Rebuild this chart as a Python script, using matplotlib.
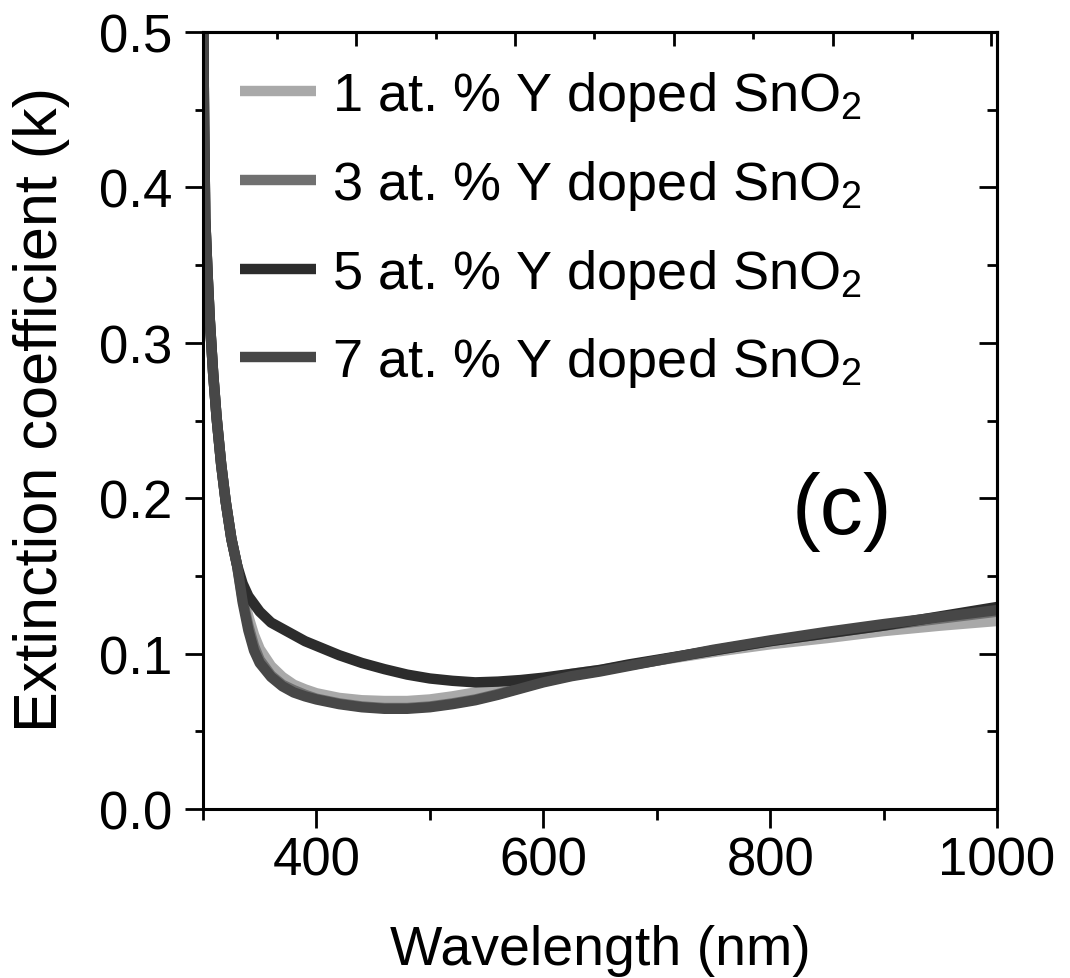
import matplotlib
matplotlib.use("Agg")
import matplotlib.pyplot as plt
from matplotlib.ticker import MultipleLocator, FormatStrFormatter

plt.rcParams["font.family"] = ["Liberation Sans", "DejaVu Sans"]
plt.rcParams["mathtext.default"] = "regular"

# wavelength grid (nm) and extinction coefficient
wavelength = [300, 301, 302, 304, 306, 309, 312, 316, 320, 325, 330, 335, 340, 345,
              350, 360, 370, 380, 390, 400, 420, 440, 460, 480, 500, 520, 540, 560,
              580, 600, 625, 650, 675, 700, 750, 800, 850, 900, 950, 1000]

k_1at = [0.53, 0.44, 0.38, 0.345, 0.315, 0.28, 0.252, 0.222, 0.198, 0.174, 0.157, 0.138,
         0.124, 0.112, 0.103, 0.092, 0.085, 0.080, 0.077, 0.0745, 0.0715, 0.070, 0.0695,
         0.0695, 0.0705, 0.0725, 0.075, 0.0775, 0.0805, 0.0835, 0.087, 0.0895, 0.0925,
         0.0955, 0.101, 0.106, 0.110, 0.1145, 0.118, 0.121]
k_3at = [0.53, 0.44, 0.38, 0.345, 0.315, 0.28, 0.252, 0.222, 0.198, 0.174, 0.157, 0.135,
         0.118, 0.105, 0.096, 0.086, 0.080, 0.0765, 0.0735, 0.071, 0.068, 0.066, 0.065,
         0.065, 0.066, 0.068, 0.0705, 0.074, 0.078, 0.082, 0.086, 0.089, 0.0925,
         0.0955, 0.102, 0.108, 0.113, 0.118, 0.1225, 0.127]
k_5at = [0.53, 0.44, 0.38, 0.345, 0.315, 0.28, 0.252, 0.222, 0.198, 0.174, 0.157, 0.145,
         0.137, 0.132, 0.127, 0.120, 0.116, 0.112, 0.108, 0.105, 0.099, 0.094, 0.090,
         0.0865, 0.084, 0.0825, 0.0815, 0.082, 0.083, 0.0845, 0.087, 0.0895, 0.093,
         0.096, 0.102, 0.108, 0.113, 0.118, 0.124, 0.130]
k_7at = [0.53, 0.44, 0.38, 0.345, 0.315, 0.28, 0.252, 0.222, 0.198, 0.174, 0.157, 0.133,
         0.115, 0.102, 0.094, 0.085, 0.079, 0.075, 0.0725, 0.0705, 0.0675, 0.0655, 0.0645,
         0.0645, 0.0655, 0.0675, 0.070, 0.0735, 0.0775, 0.0815, 0.0855, 0.0885, 0.092,
         0.0955, 0.1025, 0.1085, 0.114, 0.119, 0.1235, 0.128]

series = [k_1at, k_3at, k_5at, k_7at]
labels = ["1 at. % Y doped SnO$_2$", "3 at. % Y doped SnO$_2$",
          "5 at. % Y doped SnO$_2$", "7 at. % Y doped SnO$_2$"]
colors = ["#a9a9a9", "#707070", "#2c2c2c", "#474747"]

fig = plt.figure(figsize=(10.7, 9.79), dpi=100)
ax = fig.add_axes([0.1897, 0.1726, 0.7421, 0.7937])

for k, lab, c in zip(series, labels, colors):
    ax.plot(wavelength, k, color=c, lw=7.5, label=lab, solid_joinstyle="round",
            solid_capstyle="butt")

ax.set_xlim(300, 1000)
ax.set_ylim(0.0, 0.5)

ax.xaxis.set_major_locator(MultipleLocator(200))
ax.xaxis.set_minor_locator(MultipleLocator(100))
ax.yaxis.set_major_locator(MultipleLocator(0.1))
ax.yaxis.set_minor_locator(MultipleLocator(0.05))
ax.yaxis.set_major_formatter(FormatStrFormatter("%.1f"))

ax.tick_params(which="both", direction="out", width=2, labelsize=38, top=False, right=False)
ax.tick_params(axis="x", which="major", length=14, pad=5)
ax.tick_params(axis="x", which="minor", length=8)
ax.tick_params(axis="y", which="major", length=13, pad=9)
ax.tick_params(axis="y", which="minor", length=6)
for sp in ax.spines.values():
    sp.set_linewidth(2.2)

# mirrored ticks on top / right point inward
top = ax.secondary_xaxis("top")
top.xaxis.set_major_locator(MultipleLocator(140, offset=15))
top.xaxis.set_minor_locator(MultipleLocator(70, offset=15))
top.tick_params(which="both", direction="in", width=2, labeltop=False)
top.tick_params(which="major", length=10)
top.tick_params(which="minor", length=5)
top.spines["top"].set_linewidth(2.2)

right = ax.secondary_yaxis("right")
right.yaxis.set_major_locator(MultipleLocator(0.1))
right.yaxis.set_minor_locator(MultipleLocator(0.05))
right.tick_params(which="both", direction="in", width=2, labelright=False)
right.tick_params(which="major", length=13)
right.tick_params(which="minor", length=7)
right.spines["right"].set_linewidth(2.2)

ax.set_xlabel("Wavelength (nm)", fontsize=40)
ax.set_ylabel("Extinction coefficient (k)", fontsize=44)
ax.xaxis.set_label_coords(0.5, -0.148)
ax.yaxis.set_label_coords(-0.168, 0.515)

ax.text(0.805, 0.383, "(c)", transform=ax.transAxes, fontsize=62,
        ha="center", va="center")

ax.legend(loc="upper left", bbox_to_anchor=(0.047, 0.952), frameon=False,
          fontsize=39, handlelength=1.4, handletextpad=0.3, labelspacing=0.64,
          borderpad=0, borderaxespad=0)

fig.savefig("out.png", dpi=100)
